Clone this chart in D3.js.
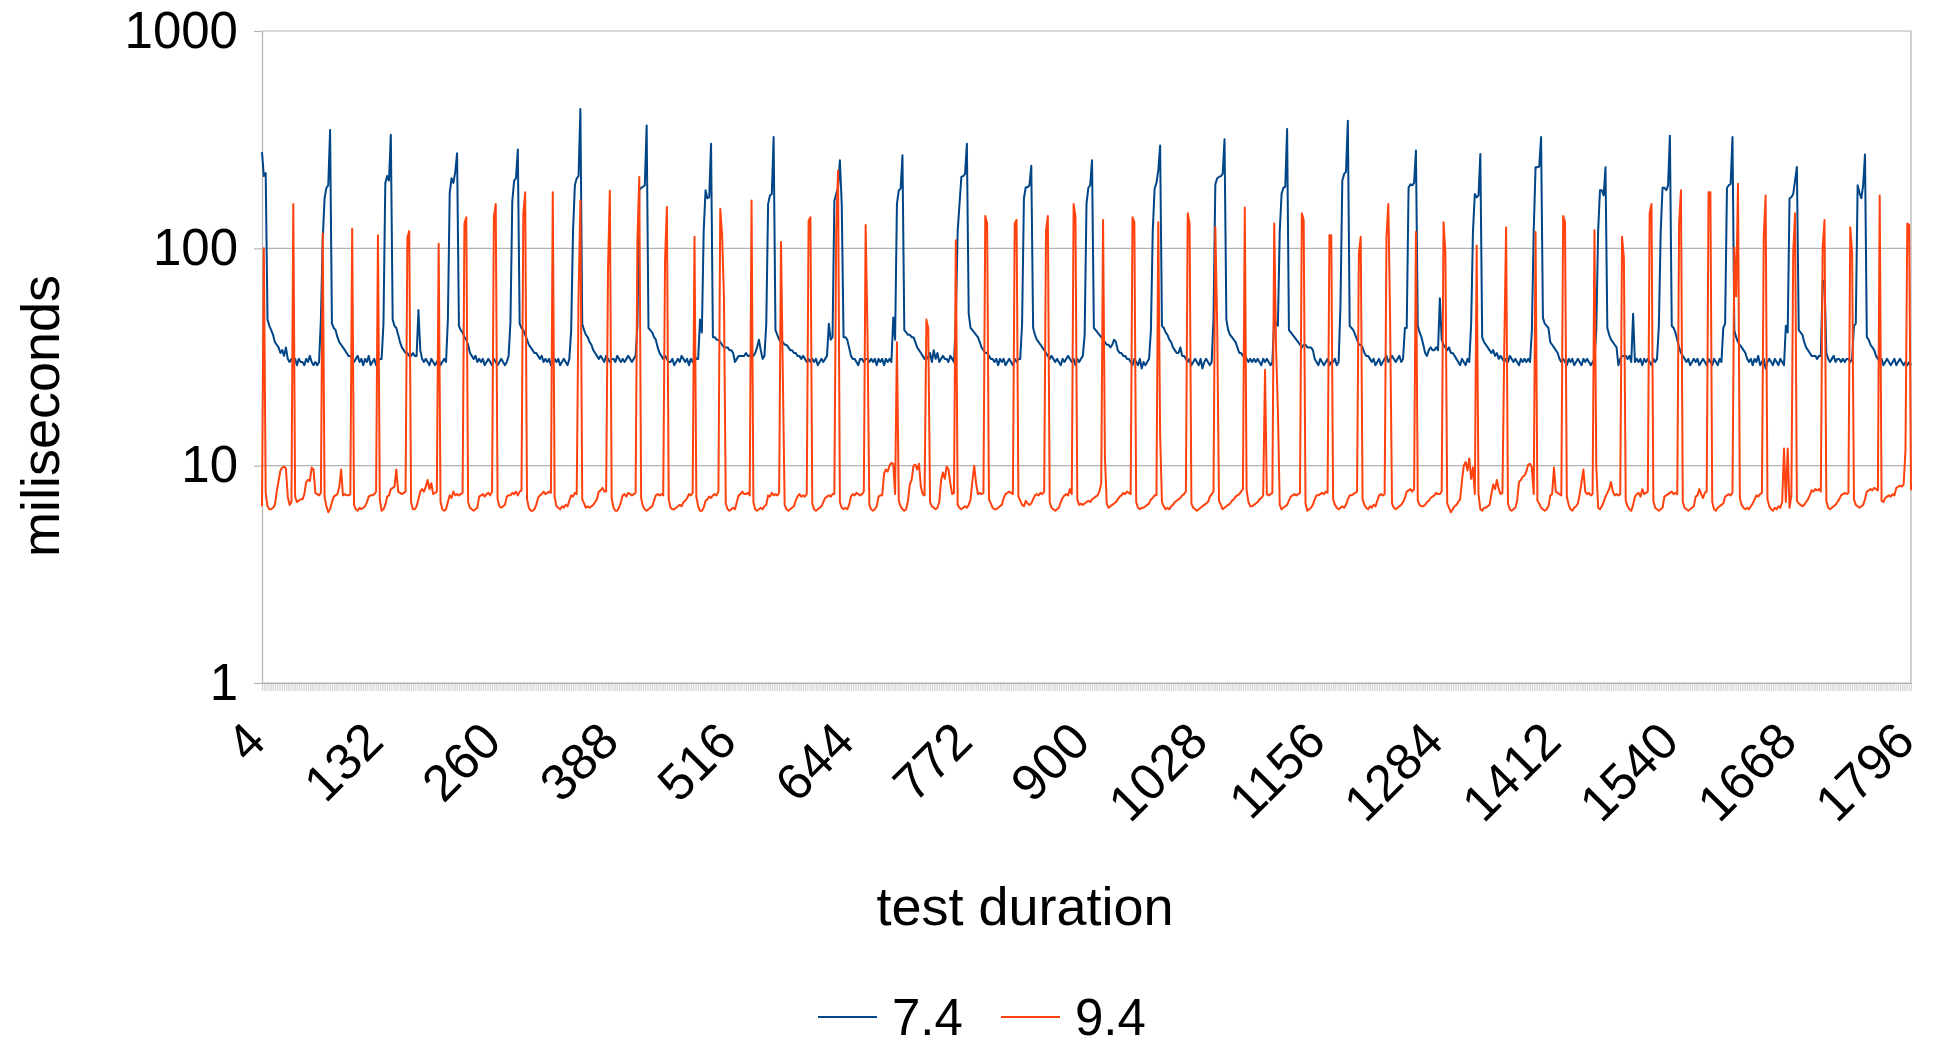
<!DOCTYPE html>
<html>
<head>
<meta charset="utf-8">
<script src="https://cdn.jsdelivr.net/npm/d3@7"></script>
<style>
  body { margin: 0; background: #fff; }
  svg { display: block; font-family: "Liberation Sans", Arial, sans-serif; }
</style>
</head>
<body>
<svg id="chart" width="1937" height="1046"></svg>
<script>
// test duration in seconds, one sample every 2 s
const duration = d3.range(4, 1797, 2);
const xLabels = [4, 132, 260, 388, 516, 644, 772, 900, 1028, 1156, 1284, 1412, 1540, 1668, 1796];
const yTicks = [1, 10, 100, 1000];
const seriesNames = ["7.4", "9.4"];
const seriesColors = ["#004586", "#ff420e"];

// miliseconds, version 7.4
const v74 = [
277,215,222,47,44,42,40,37,36,35,33,34,32,35,31,30,31,30,31,29,
31,30,30,29,31,30,32,30,29,30,29,30,47,110,170,190,195,350,45,43,
42,39,37,36,35,34,33,32,32,31,30,31,32,30,31,29,31,30,32,29,
30,31,29,30,31,31,45,200,215,205,333,47,44,43,40,37,35,34,33,33,
32,32,33,32,32,52,34,31,30,31,30,29,31,30,29,30,31,29,30,31,
30,47,180,210,200,225,274,44,42,41,39,38,36,33,32,31,32,30,31,30,
31,29,30,31,30,29,31,30,29,30,31,30,29,30,32,46,165,205,210,285,
45,43,42,40,38,36,35,34,33,33,32,31,32,30,31,30,31,29,30,31,
30,31,29,30,31,30,29,31,42,120,195,210,215,438,45,42,40,39,37,36,
34,33,32,31,32,31,30,32,31,30,31,31,30,32,31,30,31,30,31,32,
31,30,31,32,44,185,190,192,195,367,43,42,41,39,38,35,33,32,31,32,
31,30,30,31,29,30,31,30,32,31,30,31,29,31,30,32,31,31,47,41,
120,185,170,172,303,39,39,38,38,37,36,35,35,35,34,34,33,30,31,32,
32,32,32,33,32,32,33,32,33,35,38,34,31,32,45,160,175,178,325,42,
40,38,37,37,36,36,35,34,34,33,33,32,32,31,32,31,30,31,30,31,
30,31,29,30,31,30,31,32,45,38,39,165,178,190,254,160,39,39,38,35,
32,31,31,30,29,31,31,30,31,31,30,31,30,31,29,31,30,31,29,31,
30,31,30,48,38,160,185,188,268,42,41,40,40,39,39,37,35,34,33,32,
31,32,31,33,30,34,31,33,30,31,32,31,31,30,32,31,30,47,120,160,
213,215,220,303,50,43,42,41,40,39,37,35,34,33,33,32,31,31,30,31,
29,31,30,31,29,30,31,30,29,31,30,31,31,45,170,191,191,195,240,43,
40,38,37,36,35,34,33,32,31,32,31,30,31,30,29,31,30,31,32,31,
30,31,29,31,30,31,32,40,160,190,195,254,43,42,41,40,39,38,37,36,
36,35,36,38,37,34,33,33,32,32,31,31,30,29,31,30,29,31,28,30,
29,30,31,42,120,188,200,228,297,44,43,41,40,38,37,35,34,33,33,35,
32,32,31,30,31,29,30,31,30,29,31,28,30,31,30,29,30,47,197,210,
213,215,220,318,47,42,40,39,38,37,35,33,33,32,32,31,30,31,30,31,
30,31,30,29,31,30,31,30,29,30,48,45,44,120,178,190,192,354,42,41,
40,39,38,37,36,35,36,36,35,35,35,34,31,30,29,31,30,29,30,31,
29,30,30,31,29,30,55,205,220,225,386,44,43,42,40,38,36,36,35,33,
32,32,31,30,31,29,30,31,29,30,31,32,30,31,32,31,30,31,32,30,
31,43,43,190,197,195,200,282,44,41,39,36,33,32,34,35,34,34,35,34,
59,38,36,35,34,35,33,33,32,31,30,29,31,30,29,31,30,45,120,178,
172,175,272,39,37,36,35,34,33,34,32,33,31,32,31,30,31,30,32,31,
30,31,30,29,31,30,31,30,31,30,42,120,236,236,238,325,48,45,44,43,
37,36,35,34,33,31,30,31,30,29,31,30,31,29,30,31,30,29,31,30,
31,30,29,30,31,42,120,185,185,175,236,43,40,38,37,36,35,29,31,32,
32,32,31,32,30,50,30,31,30,31,29,31,30,31,30,29,31,30,31,44,
120,190,190,185,195,330,44,43,41,38,35,33,32,31,30,31,29,30,31,30,
31,29,30,31,30,29,31,30,29,31,30,29,31,30,43,45,190,195,198,325,
42,39,37,36,35,34,33,31,30,31,29,31,30,32,29,30,31,28,30,31,
30,29,31,30,29,31,30,29,44,41,170,172,178,205,237,42,41,40,37,35,
34,33,32,32,32,31,32,32,71,71,33,31,30,31,32,30,31,31,30,31,
30,31,31,30,31,44,45,195,180,170,195,270,39,38,36,35,34,32,31,30,
31,29,30,31,30,29,30,31,29,30,31,30,29,30,29,30,29
];

// miliseconds, version 9.4
const v94 = [
6.5,100,7.5,6.5,6.3,6.3,6.4,6.6,7.6,8.5,9.5,9.8,9.9,9.7,7.2,6.6,6.8,160,7.2,6.8,
6.9,7.0,7.0,7.4,8.4,8.6,8.5,9.8,9.6,7.5,7.4,7.3,7.5,117,7.2,6.5,6.1,6.3,6.8,7.2,
7.3,7.4,8.0,9.6,7.3,7.4,7.3,7.3,7.4,123,6.6,6.3,6.2,6.4,6.3,6.4,6.5,6.8,7.2,7.3,
7.3,7.4,7.6,115,7.0,6.2,6.3,6.6,7.2,7.3,7.8,7.9,8.0,9.6,7.6,7.5,7.4,7.5,7.6,112,
120,6.8,6.3,6.3,6.5,7.0,7.6,7.8,7.6,8.0,8.6,7.8,8.3,7.4,7.5,7.6,105,6.8,6.3,6.2,
6.3,6.8,7.3,7.1,7.6,7.3,7.4,7.3,7.4,7.5,130,139,6.8,6.4,6.3,6.2,6.3,6.4,7.2,7.3,
7.4,7.2,7.4,7.5,7.3,7.6,139,160,7.0,6.5,6.4,6.5,6.6,7.2,7.3,7.3,7.5,7.4,7.6,7.3,
7.6,7.7,145,181,7.0,6.4,6.2,6.2,6.3,6.6,7.1,7.3,7.4,7.6,7.4,7.5,7.6,7.5,181,7.2,
6.5,6.4,6.3,6.5,6.4,6.6,6.5,6.9,7.3,7.2,7.5,7.4,60,166,7.0,6.7,6.4,6.5,6.4,6.5,
6.6,6.8,7.0,7.6,7.7,7.9,7.6,7.6,79,184,7.1,6.4,6.2,6.2,6.4,6.8,7.3,7.4,7.2,7.5,
7.4,7.3,7.4,7.5,110,213,7.1,6.5,6.3,6.2,6.3,6.4,6.5,6.9,7.3,7.4,7.3,7.4,7.3,88,
155,7.0,6.4,6.3,6.3,6.4,6.5,6.6,6.5,6.8,6.9,7.1,7.4,7.3,7.5,113,7.2,6.5,6.2,6.2,
6.4,6.9,7.0,7.2,7.1,7.3,7.4,7.3,7.6,152,115,60,6.7,6.3,6.2,6.3,6.4,6.3,6.8,7.3,
7.4,7.6,7.4,7.4,7.5,7.3,166,6.8,6.3,6.2,6.3,6.4,6.3,6.5,6.6,7.3,7.2,7.5,7.3,7.4,
7.3,7.5,107,26,6.6,6.3,6.2,6.3,6.4,6.5,6.9,7.2,7.4,7.2,7.3,7.2,7.4,134,139,6.7,
6.3,6.2,6.3,6.4,6.5,6.8,7.1,7.2,7.3,7.2,7.4,7.4,121,228,6.8,6.4,6.3,6.4,6.3,6.6,
7.2,7.4,7.3,7.5,7.4,7.3,7.4,7.6,128,40,6.6,6.3,6.2,6.3,6.5,7.2,7.3,7.3,9.2,9.6,
9.4,10.0,10.3,10.2,7.4,37,6.9,6.5,6.3,6.2,6.3,6.9,8.2,8.6,10.0,10.1,9.6,10.2,8.0,7.4,
7.3,47,43,6.8,6.5,6.4,6.3,6.4,6.8,8.6,9.3,8.7,9.9,9.6,8.3,7.4,7.5,109,6.6,6.4,
6.3,6.4,6.5,6.4,6.6,7.0,8.5,10.0,8.3,7.4,7.5,7.4,7.5,141,130,7.0,6.7,6.4,6.3,6.3,
6.4,6.5,6.6,7.1,7.4,7.5,7.6,7.5,7.4,130,135,7.2,6.9,6.6,6.5,6.9,6.7,6.6,6.7,7.0,
7.3,7.4,7.3,7.5,7.4,7.6,121,141,6.8,6.4,6.3,6.2,6.3,6.4,6.8,7.1,7.3,7.4,7.3,7.8,
7.4,160,140,7.0,6.6,6.7,6.6,6.7,6.8,6.9,6.8,7.0,7.1,7.2,7.3,7.6,8.3,135,11,6.7,
6.4,6.5,6.6,6.7,6.8,7.0,7.2,7.3,7.5,7.4,7.6,7.5,7.4,139,132,6.8,6.4,6.3,6.4,6.4,
6.5,6.6,6.7,7.0,7.1,7.3,7.3,132,14,6.8,6.5,6.3,6.4,6.3,6.5,6.6,6.8,6.9,7.0,7.1,
7.3,7.4,7.6,145,130,6.7,6.4,6.3,6.2,6.3,6.4,6.5,6.6,6.7,6.8,7.2,7.4,7.6,125,45,
6.9,6.6,6.3,6.4,6.5,6.6,6.7,6.9,7.0,7.2,7.3,7.4,7.6,7.8,154,7.7,6.8,6.5,6.5,6.6,
6.7,6.8,7.0,7.1,7.3,27.6,7.4,7.3,7.4,7.5,130,35,18,6.6,6.3,6.4,6.5,6.6,6.9,7.2,
7.3,7.4,7.3,7.4,7.5,145,135,6.7,6.2,6.3,6.4,6.6,7.0,7.3,7.3,7.4,7.5,7.4,7.6,7.5,
115,115,7.0,6.6,6.4,6.3,6.4,6.5,6.4,6.6,7.0,7.3,7.3,7.4,7.5,7.6,95,113,7.0,6.6,
6.4,6.3,6.5,6.4,6.6,6.5,6.9,7.3,7.4,7.3,7.4,113,160,45,6.7,6.4,6.3,6.4,6.5,6.6,
6.8,7.1,7.6,7.7,7.8,7.6,7.8,119,6.9,6.6,6.5,6.5,6.6,6.8,6.9,7.1,7.2,7.3,7.5,7.4,
7.4,7.6,132,95,6.7,6.4,6.1,6.3,6.5,6.6,6.8,7.0,8.5,10.0,10.4,9.5,10.8,8.7,9.8,7.4,
103,7.4,6.3,6.2,6.4,6.4,6.5,6.6,7.4,8.2,7.8,8.6,7.8,7.4,7.5,35,125,6.7,6.3,6.2,
6.3,6.4,6.9,8.4,8.6,8.9,9.0,9.4,10.1,10.2,9.8,7.4,119,6.9,6.7,6.4,6.3,6.2,6.3,6.5,
7.3,7.4,9.8,7.6,7.5,7.4,7.3,141,132,7.2,6.6,6.3,6.2,6.4,6.5,6.7,7.4,8.4,9.6,7.6,
7.4,7.5,7.3,7.4,121,10,6.4,6.3,6.5,6.8,7.2,7.5,7.8,8.4,7.6,7.3,7.4,7.3,7.4,113,
90,6.9,6.5,6.3,6.2,6.6,7.2,7.4,7.5,7.2,7.8,7.4,7.5,7.6,145,160,6.9,6.4,6.3,6.2,
6.3,6.4,7.2,7.3,7.4,7.5,7.6,7.4,7.5,7.4,130,185,6.8,6.4,6.3,6.2,6.3,6.4,6.5,7.2,
7.3,7.8,7.4,7.1,7.5,7.6,181,181,6.8,6.3,6.2,6.4,6.5,6.6,6.7,7.2,7.3,7.4,7.3,7.5,
101,60,198,7.1,6.6,6.4,6.3,6.4,6.3,6.5,6.7,7.0,7.3,7.2,7.4,7.5,113,175,7.0,6.5,
6.3,6.2,6.4,6.3,6.5,6.4,6.8,12,6.8,12,6.4,7.3,96,145,6.9,6.7,6.6,6.5,6.6,6.8,
7.0,7.3,7.7,7.6,7.8,7.7,7.8,7.6,101,135,6.9,6.4,6.3,6.4,6.5,6.6,6.8,7.0,7.3,7.4,
7.5,7.4,7.5,125,95,7.0,6.6,6.5,6.4,6.5,6.6,7.0,7.6,7.7,7.8,7.7,7.9,7.8,7.7,175,
6.9,6.8,7.1,7.2,7.3,7.2,7.4,7.3,7.9,8.0,8.1,8.0,8.2,11.8,130,128,7.7
];

const series = [v74, v94];

const svg = d3.select('#chart');
const plotLeft = 262, plotRight = 1911, plotTop = 31, plotBottom = 683;
const gridColor = '#b3b3b3';

let x = d3.scaleLinear().domain([d3.min(duration), d3.max(duration)]).range([plotLeft, plotRight]);
let y = d3.scaleLog().domain([1, 1000]).range([plotBottom, plotTop]);

// horizontal grid lines
svg.append('g')
    .selectAll('line')
    .data(yTicks)
    .enter().append('line')
    .attr('x1', plotLeft).attr('x2', plotRight)
    .attr('y1', d => y(d)).attr('y2', d => y(d))
    .attr('stroke', gridColor)
    .attr('stroke-width', 1.2);

// right border of the plot
svg.append('line')
    .attr('x1', plotRight).attr('x2', plotRight)
    .attr('y1', plotTop).attr('y2', plotBottom)
    .attr('stroke', gridColor).attr('stroke-width', 1.2);

// y axis
let yAxis = svg.append('g')
    .attr('transform', 'translate(' + plotLeft + ',0)')
    .call(d3.axisLeft(y).tickValues(yTicks).tickSize(8).tickSizeOuter(0).tickPadding(16)
        .tickFormat(d3.format('d')));
yAxis.select('.domain').attr('stroke', gridColor).attr('stroke-width', 1.2);
yAxis.selectAll('.tick line').attr('stroke', gridColor).attr('stroke-width', 1.2);
yAxis.selectAll('.tick text')
    .attr('font-size', 51)
    .attr('font-family', '"Liberation Sans", Arial, sans-serif')
    .attr('fill', '#000');

// x axis: one tick per sample
let xAxis = svg.append('g')
    .attr('transform', 'translate(0,' + plotBottom + ')')
    .call(d3.axisBottom(x).tickValues(duration).tickSize(8).tickSizeOuter(0).tickFormat(''));
xAxis.select('.domain').attr('stroke', gridColor).attr('stroke-width', 1.2);
xAxis.selectAll('.tick line').attr('stroke', gridColor).attr('stroke-width', 0.6);

// rotated category labels
svg.append('g')
    .selectAll('text')
    .data(xLabels)
    .enter().append('text')
    .attr('transform', d => 'translate(' + (x(d) + 6) + ',744) rotate(-45)')
    .attr('text-anchor', 'end')
    .attr('font-size', 51)
    .attr('fill', '#000')
    .text(d => d);

// data lines
let line = d3.line()
    .x((d, i) => x(duration[i]))
    .y(d => y(d));

svg.append('g')
    .selectAll('path')
    .data(series)
    .enter().append('path')
    .attr('d', line)
    .attr('fill', 'none')
    .attr('stroke', (d, i) => seriesColors[i])
    .attr('stroke-width', 2)
    .attr('stroke-linejoin', 'round');

// axis titles
svg.append('text')
    .attr('transform', 'translate(59,416) rotate(-90)')
    .attr('text-anchor', 'middle')
    .attr('font-size', 54)
    .text('miliseconds');

svg.append('text')
    .attr('x', 1025).attr('y', 925)
    .attr('text-anchor', 'middle')
    .attr('font-size', 54)
    .text('test duration');

// legend
let legendX = [818, 1001];
let legend = svg.append('g')
    .selectAll('g')
    .data(seriesNames)
    .enter().append('g')
    .attr('transform', (d, i) => 'translate(' + legendX[i] + ',0)');

legend.append('line')
    .attr('x1', 0).attr('x2', 59)
    .attr('y1', 1017).attr('y2', 1017)
    .attr('stroke', (d, i) => seriesColors[i])
    .attr('stroke-width', 2);

legend.append('text')
    .attr('x', 74).attr('y', 1035)
    .attr('font-size', 51)
    .text(d => d);
</script>
</body>
</html>
